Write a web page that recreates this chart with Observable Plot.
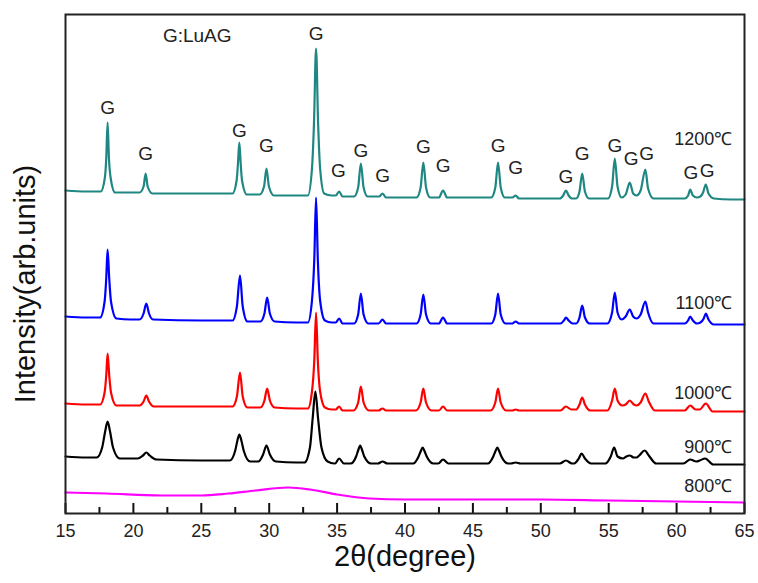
<!DOCTYPE html>
<html>
<head>
<meta charset="utf-8">
<script src="https://cdn.jsdelivr.net/npm/d3@7"></script>
<script src="https://cdn.jsdelivr.net/npm/@observablehq/plot@0.6"></script>
<style>
  html, body { margin: 0; padding: 0; background: #fff; }
  #chart { width: 758px; height: 583px; }
  svg { font-family: "Liberation Sans", Arial, sans-serif; }
</style>
</head>
<body>
<div id="chart"></div>
<script>
// 2θ (degree), intensity (arb. units)
const s1200 = [
  [15,323],[16.5,322],
  [17.6,322],[17.9,336],[18.0,355],[18.1,391],[18.2,355],[18.32,336],[18.65,321],
  [19.5,321],
  [20.45,321],[20.75,327],[20.9,340],[21.05,327],[21.4,320],
  [24,320],[26.5,320],
  [27.3,320],[27.6,333],[27.7,350],[27.8,371],[27.9,350],[28.0,333],[28.35,319],
  [29.3,319],[29.62,327],[29.8,345],[29.98,327],[30.35,318],
  [32,318],
  [32.85,318],[33.15,345],[33.3,391],[33.45,465],[33.6,391],[33.75,345],[34.05,320],[34.6,318],
  [34.9,318],[35.15,322],[35.4,317],
  [36.25,317],[36.55,326],[36.75,350],[36.95,326],[37.25,317],
  [38.1,317],[38.35,320],[38.6,316],
  [40,316],
  [40.85,316],[41.15,326],[41.35,351],[41.55,326],[41.85,316],
  [42.5,316],[42.8,323],[43.1,316],
  [45,316],
  [46.35,316],[46.65,326],[46.85,351],[47.05,326],[47.35,316],
  [47.9,316],[48.15,318],[48.4,315],
  [50.5,315],
  [51.4,315],[51.65,318],[51.85,323],[52.05,318],[52.3,315],
  [52.6,315],[52.85,322],[53.05,340],[53.25,322],[53.55,315],
  [54.95,315],[55.25,327],[55.45,355],[55.65,327],[55.95,316],
  [56.25,319],[56.55,331],[56.8,320],[57.05,318],
  [57.35,323],[57.7,344],[57.9,325],[58.3,315],
  [60,315],
  [60.6,315],[60.85,318],[61.0,324],[61.2,318],[61.5,316],
  [61.75,317],[61.95,321],[62.15,329],[62.35,320],[62.75,315],
  [64,314],[65,314]
];
const s1100 = [
  [15,197],[16.5,196],
  [17.55,196],[17.88,212],[18.0,235],[18.1,264],[18.22,235],[18.35,212],[18.75,195],
  [19.8,194],
  [20.45,194],[20.75,200],[20.95,210],[21.15,200],[21.45,194],
  [25,193],
  [27.3,193],[27.62,207],[27.85,238],[28.05,207],[28.4,192],
  [29.35,192],[29.65,200],[29.85,216],[30.05,200],[30.4,192],
  [32,191],
  [32.85,191],[33.15,213],[33.32,254],[33.45,316],[33.58,254],[33.75,213],[34.1,193],[34.6,191],
  [34.9,191],[35.15,195],[35.4,190],
  [36.25,190],[36.55,199],[36.75,220],[36.95,199],[37.3,190],
  [38.05,190],[38.35,194],[38.6,190],
  [40.5,190],
  [40.85,190],[41.15,199],[41.35,219],[41.55,199],[41.9,190],
  [42.5,190],[42.8,196],[43.1,190],
  [45.5,190],
  [46.35,190],[46.65,199],[46.85,220],[47.05,199],[47.4,190],
  [47.9,190],[48.15,192],[48.4,190],
  [51,190],
  [51.45,190],[51.7,193],[51.85,196],[52.05,193],[52.35,190],
  [52.6,190],[52.85,196],[53.05,208],[53.25,196],[53.6,190],
  [54.9,190],[55.25,201],[55.45,221],[55.65,201],[55.95,194],
  [56.25,197],[56.55,204],[56.8,197],[57.05,195],
  [57.35,199],[57.7,212],[57.9,201],[58.3,190],
  [60,190],
  [60.6,190],[60.85,193],[61.0,197],[61.2,193],[61.5,190],
  [61.75,191],[62.0,195],[62.15,200],[62.35,194],[62.75,189],
  [64,189],[65,189]
];
const s1000 = [
  [15,110],[16.5,109],
  [17.55,109],[17.88,121],[18.0,138],[18.1,160],[18.22,138],[18.35,121],[18.75,108],
  [19.8,108],
  [20.45,108],[20.75,112],[20.95,118],[21.15,112],[21.5,107],
  [25,107],
  [27.3,107],[27.62,117],[27.85,141],[28.05,117],[28.4,106],
  [29.35,106],[29.65,113],[29.85,125],[30.05,113],[30.4,106],
  [32,105],
  [32.85,105],[33.15,122],[33.32,153],[33.45,201],[33.58,153],[33.75,122],[34.1,106],[34.6,104],
  [34.9,104],[35.15,107],[35.4,103],
  [36.2,103],[36.55,111],[36.75,127],[36.95,111],[37.35,103],
  [38.05,103],[38.35,105],[38.6,103],
  [40.5,103],
  [40.8,103],[41.15,111],[41.35,125],[41.55,111],[41.95,103],
  [42.5,103],[42.8,107],[43.1,103],
  [45.5,103],
  [46.3,103],[46.65,111],[46.85,125],[47.05,111],[47.45,103],
  [47.9,103],[48.15,104],[48.4,103],
  [51,103],
  [51.45,103],[51.85,107],[52.25,104],
  [52.6,104],[52.85,109],[53.05,116],[53.25,109],[53.65,103],
  [54.9,103],[55.25,113],[55.45,125],[55.65,113],[56.0,108],
  [56.25,109],[56.55,113],[56.85,109],[57.05,108],
  [57.35,111],[57.7,120],[57.95,112],[58.4,103],
  [60,103],
  [60.6,103],[61.0,108],[61.4,104],
  [61.7,104],[62.15,110],[62.65,102],
  [64,102],[65,102]
];
const s900 = [
  [15,57],[16.5,56],
  [17.3,56],[17.7,66],[17.92,82],[18.1,92],[18.28,82],[18.5,66],[19.0,55],
  [19.8,55],
  [20.3,55],[20.7,58],[20.95,61],[21.2,58],[21.7,54],
  [25,53],
  [27.1,53],[27.5,63],[27.66,73],[27.8,79],[27.95,73],[28.12,63],[28.6,52],
  [29.2,52],[29.55,59],[29.8,68],[30.05,59],[30.5,52],
  [32,51],
  [32.6,51],[33.0,66],[33.2,95],[33.4,122],[33.6,95],[33.85,66],[34.3,52],[34.8,50],
  [34.85,50],[35.15,55],[35.5,50],
  [36.0,50],[36.4,57],[36.55,63],[36.7,68],[36.85,63],[37.0,57],[37.5,50],
  [38.0,50],[38.35,52],[38.7,50],
  [40.3,50],
  [40.6,50],[41.0,57],[41.15,62],[41.3,66],[41.45,62],[41.6,57],[42.1,50],
  [42.45,50],[42.8,54],[43.2,50],
  [45.5,50],
  [46.1,50],[46.5,57],[46.65,62],[46.8,66],[46.95,62],[47.1,57],[47.6,50],
  [47.8,50],[48.15,51],[48.5,50],
  [51,50],
  [51.4,50],[51.85,53],[52.3,50],
  [52.45,50],[52.8,55],[53.0,60],[53.25,55],[53.7,50],
  [54.75,50],[55.15,57],[55.4,66],[55.65,57],[56.05,55],
  [56.3,57],[56.55,58],[56.85,56],[57.05,56],
  [57.25,58],[57.65,63],[57.95,58],[58.5,50],
  [60,50],
  [60.5,50],[61.0,54],[61.45,52],
  [61.7,53],[62.1,55],[62.7,49],
  [64,49],[65,49]
];
const s800 = [
  [15,21],[18,20],[22,18],[25,18],[27,20],[29,23],[31.4,26],[33,24],
  [35,19],[37.4,15],[40,14],[50,14],[55,13],[60,12],[65,11]
];

// peak markers "G" above the 1200 °C pattern
const gPos    = [18.1, 20.9, 27.8, 29.8, 33.45, 35.1, 36.75, 38.35, 41.35, 42.8, 46.85, 48.15, 51.85, 53.05, 55.45, 56.65, 57.8, 61.05, 62.25];
const gHeight = [406, 360, 383, 368, 480, 343, 363, 338, 367, 348, 368, 346, 337, 360, 368, 355, 360, 341, 343];

const tempLabels = ["1200℃", "1100℃", "1000℃", "900℃", "800℃"];
const tempY      = [374, 210, 120, 66, 27];
const colors     = ["#1f8782", "#0000ff", "#ff0000", "#000000", "#ff00ff"];

const xTicks = [15, 20, 25, 30, 35, 40, 45, 50, 55, 60, 65];
const xMinor = [17.5, 22.5, 27.5, 32.5, 37.5, 42.5, 47.5, 52.5, 57.5, 62.5];

const series = [s1200, s1100, s1000, s900, s800];
const gData = gPos.map((x, i) => ({x, y: gHeight[i]}));
const tData = tempLabels.map((t, i) => ({t, y: tempY[i]}));

const chart = Plot.plot({
  width: 758,
  height: 583,
  marginLeft: 65,
  marginRight: 14,
  marginTop: 14,
  marginBottom: 70,
  style: {fontFamily: '"Liberation Sans", Arial, sans-serif', background: "#fff"},
  x: {domain: [15, 65]},
  y: {domain: [0, 499], axis: null},
  marks: [
    ...series.map((s, i) => Plot.line(s, {
      x: d => d[0], y: d => d[1], stroke: colors[i], strokeWidth: 2.2, curve: "monotone-x"
    })),
    Plot.ruleX(xTicks, {y1: 0, y2: 10, stroke: "#111", strokeWidth: 2}),
    Plot.ruleX(xMinor, {y1: 0, y2: 6, stroke: "#111", strokeWidth: 2}),
    Plot.frame({stroke: "#222", strokeWidth: 2}),
    Plot.axisX(xTicks, {tickSize: 0, tickPadding: 11, fontSize: 18, label: null, fill: "#222"}),
    Plot.text(gData, {x: "x", y: "y", text: () => "G", fontSize: 19, fill: "#222"}),
    Plot.text(["G:LuAG"], {x: 24.7, y: 478, text: d => d, fontSize: 19, fill: "#222"}),
    Plot.text(tData, {x: 64.1, y: "y", text: "t", textAnchor: "end", fontSize: 18, fill: "#222"}),
    Plot.text(["2θ(degree)"], {frameAnchor: "bottom", dy: 52, text: d => d, textAnchor: "middle", fontSize: 29, fill: "#111"}),
    Plot.text(["Intensity(arb.units)"], {frameAnchor: "left", rotate: -90, dx: -40, dy: 20, textAnchor: "middle", text: d => d, fontSize: 29, fill: "#111"})
  ]
});
document.getElementById("chart").append(chart);
</script>
</body>
</html>
